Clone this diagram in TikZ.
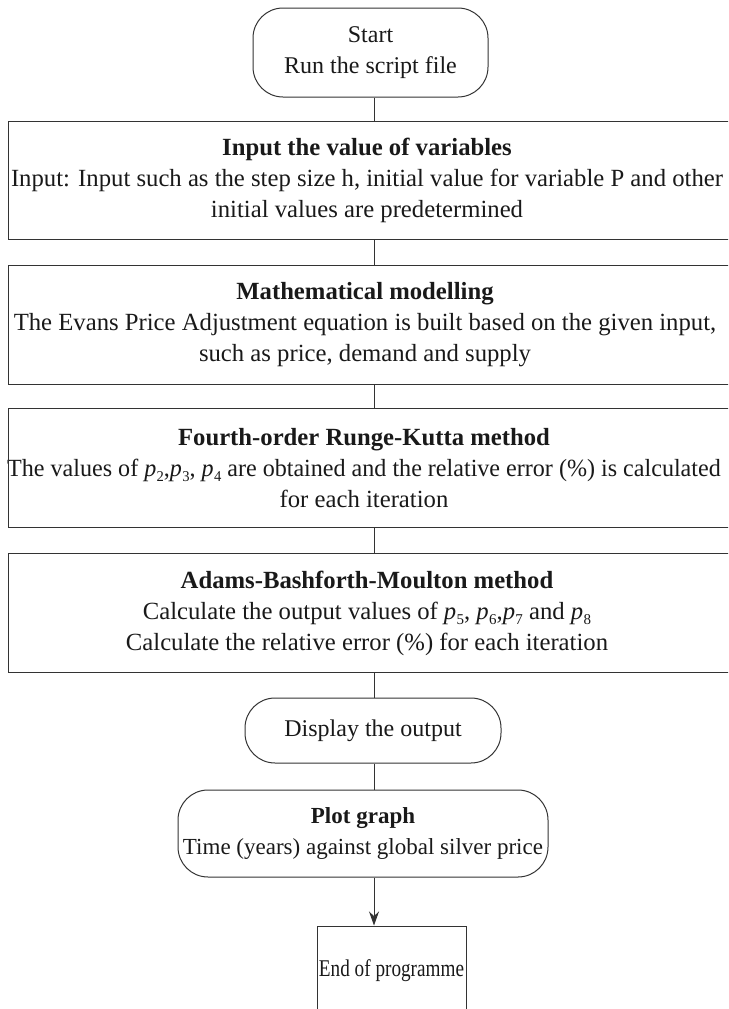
\documentclass[tikz,border=0pt]{standalone}
\usepackage{fontspec}
\usepackage{graphicx}
\setmainfont{Liberation Serif}
\usetikzlibrary{arrows.meta,calc}
\newcommand\pv[1]{\textit{p}\kern0.3pt\raisebox{-0.45ex}{\fontsize{15}{15}\selectfont #1}}
\begin{document}
\begin{tikzpicture}[x=1pt,y=-1pt,
  every node/.style={font=\fontsize{24}{31}\selectfont, align=center, inner sep=0pt, text=black!90},
  term/.style={draw=black!80, line width=1pt, rounded corners=30pt, minimum width=235pt, minimum height=89pt},
  proc/.style={minimum width=718pt, minimum height=118pt, font=\fontsize{24.7}{31}\selectfont},
  boxline/.style={draw=black!80, line width=1pt},
  conn/.style={draw=black!80, line width=1pt}]
\useasboundingbox (0,0) rectangle (728,1009);
\clip (0,0) rectangle (728,1009);
\coordinate (L) at (8,0);
\coordinate (R) at (760,0);
\coordinate (S) at (374,0);

\node[term] (start) at (370.5,52.5) {Start\\Run the script file};

\node[proc] (b1) at (367,180.5) {\textbf{Input the value of variables}\\Input: Input such as the step size h, initial value for variable P and other\\initial values are predetermined};
\node[proc] (b2) at (365,325) {\textbf{Mathematical modelling}\\The Evans Price Adjustment equation is built based on the given input,\\such as price, demand and supply};
\node[proc] (b3) at (364,468) {\textbf{Fourth-order Runge-Kutta method}\\\scalebox{0.975}[1]{The values of \pv2,\pv3, \pv4 are obtained and the relative error (\%) is calculated}\\for each iteration};
\node[proc] (b4) at (367,613) {\textbf{Adams-Bashforth-Moulton method}\\Calculate the output values of \pv5, \pv6,\pv7 and \pv8\\Calculate the relative error (\%) for each iteration};

\foreach \n in {b1,b2,b3,b4}
  \draw[boxline] (R |- \n.north) -- (L |- \n.north) -- (L |- \n.south) -- (R |- \n.south);

\node[term, minimum width=256pt, minimum height=65pt] (disp) at (373,730.5) {Display the output};
\node[term, minimum width=370pt, minimum height=87pt, font=\fontsize{23}{31}\selectfont] (plot) at (363,833.5) {\textbf{Plot graph}\\Time (years) against global silver price};
\node[draw=black!80, line width=1pt, minimum width=149pt, minimum height=89pt] (end) at (391.5,970.5) {\scalebox{0.8}[1]{End of programme}};

\draw[conn] (start.south -| S) -- (b1.north -| S);
\draw[conn] (b1.south -| S) -- (b2.north -| S);
\draw[conn] (b2.south -| S) -- (b3.north -| S);
\draw[conn] (b3.south -| S) -- (b4.north -| S);
\draw[conn] (b4.south -| S) -- (disp.north -| S);
\draw[conn] (disp.south -| S) -- (plot.north -| S);
\draw[conn, -{Stealth[length=14pt,width=10pt]}] (plot.south -| S) -- (end.north -| S);
\end{tikzpicture}
\end{document}
